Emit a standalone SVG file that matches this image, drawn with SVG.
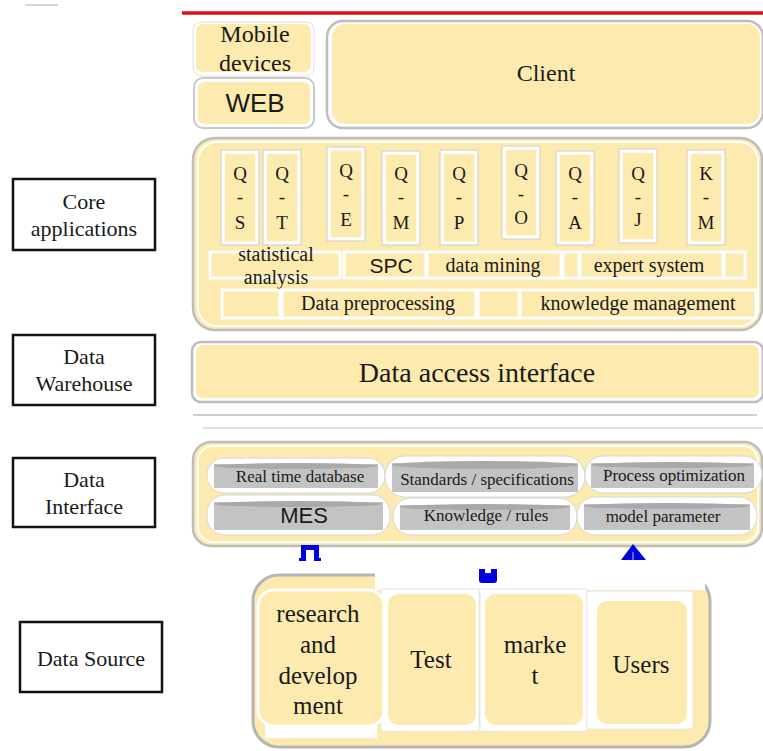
<svg xmlns="http://www.w3.org/2000/svg" width="763" height="751" viewBox="0 0 763 751">
<style>
.serif{font-family:"Liberation Serif","Times New Roman",serif;fill:#1a1a1a}
.sans{font-family:"Liberation Sans",Arial,sans-serif;fill:#1a1a1a}
.lbl{fill:#fff;stroke:#111;stroke-width:2.5}
.panel{fill:#FDEAAF;stroke:#bdbdbd;stroke-width:2.5}
.yb{fill:#FDEAAF;stroke:#fff;stroke-width:3}
.col{fill:#FDEAAF;stroke:#fff;stroke-width:3.5}
.colsh{fill:none;stroke:#cfcfcf;stroke-width:1}
.cylw{fill:#fff;stroke:#d6d6d6;stroke-width:1}
.cylg{fill:#c3c3c3}
.cylt{fill:#a9a9a9}
.blue{fill:#0000e0}
</style>
<rect width="763" height="751" fill="#fff"/>
<line x1="25" y1="5" x2="58" y2="5" stroke="#c8c8c8" stroke-width="1.5"/>
<line x1="182" y1="13" x2="763" y2="13" stroke="#e01010" stroke-width="3.5"/>

<!-- left labels -->
<g id="label-core"><rect class="lbl" x="13" y="179" width="142" height="71"/>
<text class="serif" font-size="22" text-anchor="middle" x="84" y="209">Core</text>
<text class="serif" font-size="22" text-anchor="middle" x="84" y="236">applications</text></g>
<g id="label-warehouse"><rect class="lbl" x="13" y="335" width="142" height="70"/>
<text class="serif" font-size="22" text-anchor="middle" x="84" y="364">Data</text>
<text class="serif" font-size="22" text-anchor="middle" x="84" y="391">Warehouse</text></g>
<g id="label-interface"><rect class="lbl" x="13" y="458" width="142" height="69"/>
<text class="serif" font-size="22" text-anchor="middle" x="84" y="487">Data</text>
<text class="serif" font-size="22" text-anchor="middle" x="84" y="514">Interface</text></g>
<g id="label-source"><rect class="lbl" x="20" y="622" width="142" height="70"/>
<text class="serif" font-size="22" text-anchor="middle" x="91" y="666">Data Source</text></g>

<!-- top layer -->
<g id="mobile"><rect x="193" y="22" width="121" height="54" rx="8" fill="#fff" stroke="#e0e0e0"/>
<rect x="196" y="24" width="115" height="48" rx="7" fill="#FDEAAF"/>
<text class="serif" font-size="24" text-anchor="middle" x="255" y="42">Mobile</text>
<text class="serif" font-size="24" text-anchor="middle" x="255" y="71">devices</text></g>
<g id="web"><rect x="194" y="78" width="120" height="50" rx="9" fill="#fff" stroke="#c8c8c8" stroke-width="2"/>
<rect x="198" y="82" width="112" height="42" rx="6" fill="#FDEAAF"/>
<text class="sans" font-size="26" text-anchor="middle" x="255" y="112">WEB</text></g>
<g id="client"><rect x="327" y="21" width="436" height="107" rx="16" fill="#fff" stroke="#bdbdbd" stroke-width="2.5"/>
<rect x="332" y="24" width="428" height="100" rx="13" fill="#FDEAAF"/>
<text class="serif" font-size="24" text-anchor="middle" x="546" y="81">Client</text></g>

<!-- core applications -->
<g id="core-apps"><rect class="panel" x="193" y="138" width="569" height="192" rx="22"/>
<rect x="198" y="142" width="560" height="184" rx="19" fill="#FDEAAF" stroke="#fff" stroke-width="2"/></g>
<g id="modules" class="serif" font-size="19" text-anchor="middle">
<g id="q-s"><rect class="col" x="223" y="152" width="34" height="91"/><rect class="colsh" x="221" y="150" width="38" height="95"/><text x="240" y="180">Q</text><text x="240" y="203">-</text><text x="240" y="229">S</text></g>
<g id="q-t"><rect class="col" x="265" y="152" width="34" height="91"/><rect class="colsh" x="263" y="150" width="38" height="95"/><text x="282" y="180">Q</text><text x="282" y="203">-</text><text x="282" y="229">T</text></g>
<g id="q-e"><rect class="col" x="329" y="149" width="34" height="90"/><rect class="colsh" x="327" y="147" width="38" height="94"/><text x="346" y="177">Q</text><text x="346" y="200">-</text><text x="346" y="226">E</text></g>
<g id="q-m"><rect class="col" x="384" y="153" width="34" height="90"/><rect class="colsh" x="382" y="151" width="38" height="94"/><text x="401" y="180">Q</text><text x="401" y="203">-</text><text x="401" y="229">M</text></g>
<g id="q-p"><rect class="col" x="442" y="152" width="34" height="91"/><rect class="colsh" x="440" y="150" width="38" height="95"/><text x="459" y="180">Q</text><text x="459" y="203">-</text><text x="459" y="229">P</text></g>
<g id="q-o"><rect class="col" x="504" y="148" width="34" height="89"/><rect class="colsh" x="502" y="146" width="38" height="93"/><text x="521" y="177">Q</text><text x="521" y="200">-</text><text x="521" y="224">O</text></g>
<g id="q-a"><rect class="col" x="558" y="153" width="34" height="90"/><rect class="colsh" x="556" y="151" width="38" height="94"/><text x="575" y="180">Q</text><text x="575" y="203">-</text><text x="575" y="229">A</text></g>
<g id="q-j"><rect class="col" x="621" y="151" width="34" height="90"/><rect class="colsh" x="619" y="149" width="38" height="94"/><text x="638" y="180">Q</text><text x="638" y="203">-</text><text x="638" y="226">J</text></g>
<g id="k-m"><rect class="col" x="689" y="152" width="34" height="91"/><rect class="colsh" x="687" y="150" width="38" height="95"/><text x="706" y="180">K</text><text x="706" y="203">-</text><text x="706" y="229">M</text></g>
</g>
<g id="functions" class="serif" font-size="20" text-anchor="middle">
<g id="statistical"><rect class="yb" x="210" y="252" width="130" height="26"/><text x="276" y="261">statistical</text><text x="276" y="284">analysis</text></g>
<g id="spc"><rect class="yb" x="344" y="252" width="82" height="26"/><text class="sans" font-size="21" x="391" y="273">SPC</text></g>
<g id="datamining"><rect class="yb" x="427" y="252" width="134" height="26"/><text x="493" y="272">data mining</text></g>
<rect class="yb" x="563" y="252" width="16" height="26"/>
<g id="expert"><rect class="yb" x="580" y="252" width="143" height="26"/><text x="649" y="272">expert system</text></g>
<rect class="yb" x="724" y="252" width="21" height="26"/>
<rect class="yb" x="222" y="290" width="58" height="28"/>
<g id="preprocessing"><rect class="yb" x="282" y="290" width="194" height="28"/><text x="378" y="310">Data preprocessing</text></g>
<rect class="yb" x="478" y="290" width="41" height="28"/>
<g id="knowledge-mgmt"><rect class="yb" x="520" y="290" width="236" height="28"/><text x="638" y="310">knowledge management</text></g>
</g>

<!-- data warehouse -->
<g id="data-access"><rect x="192" y="342" width="571" height="60" rx="9" fill="#fff" stroke="#bdbdbd" stroke-width="2.5"/>
<rect x="196" y="345" width="563" height="53" rx="7" fill="#FDEAAF"/>
<text class="serif" font-size="28" text-anchor="middle" x="477" y="382">Data access interface</text></g>
<line x1="193" y1="415" x2="757" y2="415" stroke="#cfcfcf" stroke-width="2"/>
<line x1="203" y1="428" x2="763" y2="428" stroke="#e0e0e0" stroke-width="2"/>

<!-- data interface -->
<g id="data-interface"><rect class="panel" x="193" y="442" width="569" height="104" rx="18"/>
<rect x="198" y="446" width="560" height="96" rx="15" fill="#FDEAAF" stroke="#fff" stroke-width="2"/></g>
<g id="stores" class="serif" font-size="17" text-anchor="middle">
<g id="realtime"><rect class="cylw" x="207" y="458" width="178" height="35" rx="17"/><rect class="cylg" x="214" y="464" width="164" height="24"/><ellipse class="cylt" cx="296" cy="466" rx="82" ry="3"/><text x="300" y="482">Real time database</text></g>
<g id="standards"><rect class="cylw" x="385" y="456" width="200" height="41" rx="20"/><rect class="cylg" x="392" y="463" width="186" height="29"/><ellipse class="cylt" cx="485" cy="465" rx="93" ry="4"/><text x="487" y="485">Standards / specifications</text></g>
<g id="process"><rect class="cylw" x="585" y="456" width="177" height="37" rx="18"/><rect class="cylg" x="591" y="463" width="163" height="25"/><ellipse class="cylt" cx="672" cy="465" rx="81" ry="3"/><text x="674" y="481">Process optimization</text></g>
<g id="mes"><rect class="cylw" x="207" y="495" width="183" height="40" rx="18"/><rect class="cylg" x="214" y="502" width="169" height="28"/><ellipse class="cylt" cx="298" cy="504" rx="84" ry="3"/><text class="sans" font-size="22" x="304" y="523">MES</text></g>
<g id="rules"><rect class="cylw" x="393" y="498" width="184" height="37" rx="18"/><rect class="cylg" x="400" y="505" width="170" height="25"/><ellipse class="cylt" cx="485" cy="507" rx="85" ry="3"/><text x="486" y="521">Knowledge / rules</text></g>
<g id="model"><rect class="cylw" x="577" y="497" width="180" height="38" rx="18"/><rect class="cylg" x="584" y="504" width="166" height="26"/><ellipse class="cylt" cx="667" cy="506" rx="83" ry="3"/><text x="663" y="522">model parameter</text></g>
</g>

<!-- data source -->
<g id="data-source"><rect x="253" y="575" width="457" height="172" rx="26" fill="#FDEAAF" stroke="#b5b5b5" stroke-width="3"/>
<rect x="375" y="573" width="330" height="17" fill="#fff"/>
<rect x="265" y="722" width="112" height="16" fill="#fff"/>
<rect x="381" y="589" width="98" height="142" fill="#fff" stroke="#e6e6e6"/>
<rect x="480" y="589" width="107" height="142" fill="#fff" stroke="#e6e6e6"/>
<rect x="587" y="591" width="106" height="138" fill="#fff" stroke="#e6e6e6"/></g>
<g id="rnd"><rect x="258" y="590" width="126" height="136" rx="16" fill="#FDEAAF" stroke="#fff" stroke-width="3"/>
<text class="serif" font-size="25" text-anchor="middle" x="318" y="622">research</text>
<text class="serif" font-size="25" text-anchor="middle" x="318" y="653">and</text>
<text class="serif" font-size="25" text-anchor="middle" x="318" y="684">develop</text>
<text class="serif" font-size="25" text-anchor="middle" x="318" y="714">ment</text></g>
<g id="test"><rect x="388" y="594" width="88" height="131" rx="11" fill="#FDEAAF"/>
<text class="serif" font-size="25" text-anchor="middle" x="431" y="668">Test</text></g>
<g id="market"><rect x="485" y="594" width="98" height="131" rx="11" fill="#FDEAAF"/>
<text class="serif" font-size="25" text-anchor="middle" x="535" y="653">marke</text>
<text class="serif" font-size="25" text-anchor="middle" x="535" y="684">t</text></g>
<g id="users"><rect x="596" y="600" width="92" height="125" rx="11" fill="#FDEAAF" stroke="#fff" stroke-width="2"/>
<text class="serif" font-size="25" text-anchor="middle" x="641" y="673">Users</text></g>

<!-- connectors -->
<g id="connectors">
<path class="blue" d="M299 561 L299 558 L301 558 L301 545 L319 545 L319 558 L321 558 L321 561 L314 561 L314 550 L306 550 L306 561 Z"/>
<path class="blue" d="M621 560 L633 544 L646 560 Z"/>
<line x1="633" y1="552" x2="633" y2="560" stroke="#8080ff" stroke-width="1.5"/>
<path class="blue" d="M479 569 L485 569 L485 573 L491 573 L491 569 L497 569 L497 580 Q497 583 494 583 L482 583 Q479 583 479 580 Z"/>
</g>
</svg>
